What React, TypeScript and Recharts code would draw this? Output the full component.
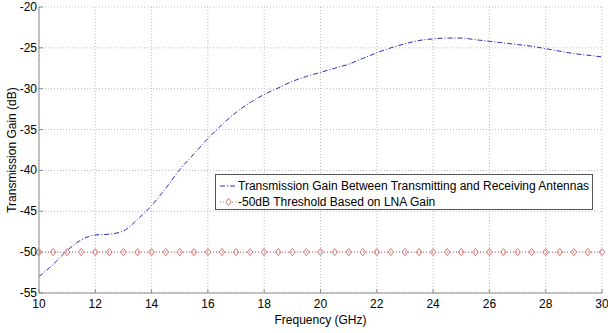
import { LineChart, Line, XAxis, YAxis, CartesianGrid, Legend } from 'recharts';

// frequency samples (GHz), every 0.5 GHz
const FREQS = [
  10, 10.5, 11, 11.5, 12, 12.5, 13, 13.5, 14, 14.5, 15, 15.5, 16, 16.5, 17, 17.5, 18, 18.5, 19, 19.5,
  20, 20.5, 21, 21.5, 22, 22.5, 23, 23.5, 24, 24.5, 25, 25.5, 26, 26.5, 27, 27.5, 28, 28.5, 29, 29.5, 30,
];

// transmission gain between antennas (dB)
const GAIN = [
  -53.0, -51.5, -49.8, -48.5, -47.9, -47.8, -47.4, -46.0, -44.3, -42.2, -39.9, -38.0, -36.1, -34.4,
  -32.9, -31.7, -30.7, -29.9, -29.1, -28.5, -28.0, -27.5, -27.0, -26.3, -25.6, -25.0, -24.5, -24.1,
  -23.9, -23.8, -23.8, -24.0, -24.2, -24.4, -24.6, -24.8, -25.1, -25.4, -25.7, -25.9, -26.1,
];

// LNA threshold (dB)
const THRESHOLD = FREQS.map(() => -50);

const X_TICKS = [10, 12, 14, 16, 18, 20, 22, 24, 26, 28, 30];
const Y_TICKS = [-55, -50, -45, -40, -35, -30, -25, -20];

const GAIN_NAME = 'Transmission Gain Between Transmitting and Receiving Antennas';
const THRESH_NAME = '-50dB Threshold Based on LNA Gain';

const FONT = '"Liberation Sans", Arial, Helvetica, sans-serif';
const BLUE = '#2c2cb8';
const RED = '#d46a6a';
const AXIS = '#8c8c8c';

const data = FREQS.map((f, i) => ({ f, gain: GAIN[i], threshold: THRESHOLD[i] }));

function diamondPath(cx: number, cy: number) {
  const w = 2.8;
  const h = 3.6;
  return `M${cx},${cy - h} L${cx + w},${cy} L${cx},${cy + h} L${cx - w},${cy} Z`;
}

const XTick = (props: any) => {
  const { x, y, payload } = props;
  return (
    <g>
      <line x1={x} y1={y} x2={x} y2={y - 4} stroke={AXIS} />
      <text x={x} y={y + 15} textAnchor="middle" fontSize={12} fontFamily={FONT} fill="#000">
        {payload.value}
      </text>
    </g>
  );
};

const YTick = (props: any) => {
  const { x, y, payload } = props;
  return (
    <g>
      <line x1={x} y1={y} x2={x + 4} y2={y} stroke={AXIS} />
      <text x={x - 2} y={y + 4} textAnchor="end" fontSize={12} fontFamily={FONT} fill="#000">
        {payload.value}
      </text>
    </g>
  );
};

const Diamond = (props: any) => {
  const { cx, cy, index } = props;
  if (cx == null || cy == null) return <g key={index} />;
  return <path key={index} d={diamondPath(cx, cy)} fill="none" stroke={RED} strokeWidth={0.9} />;
};

const LegendBox = () => (
  <div
    style={{
      width: 376,
      height: 34,
      border: '1px solid #555',
      background: '#fff',
      fontFamily: FONT,
      fontSize: 12,
      color: '#000',
      position: 'relative',
    }}
  >
    <svg width={24} height={34} style={{ position: 'absolute', left: 0, top: 0 }}>
      <line x1={4} y1={11} x2={21} y2={11} stroke={BLUE} strokeDasharray="5 2 1 2" />
      <line x1={4} y1={27} x2={21} y2={27} stroke={RED} strokeDasharray="1 2" />
      <path d={diamondPath(12.5, 27)} fill="#fff" stroke={RED} strokeWidth={0.9} />
    </svg>
    <div style={{ position: 'absolute', left: 22, top: 4, whiteSpace: 'nowrap', lineHeight: '14px' }}>{GAIN_NAME}</div>
    <div style={{ position: 'absolute', left: 22, top: 20, whiteSpace: 'nowrap', lineHeight: '14px' }}>{THRESH_NAME}</div>
  </div>
);

export default function App() {
  return (
    <div style={{ position: 'absolute', left: 0, top: 0, background: '#fff' }}>
      <LineChart width={608} height={333} data={data} margin={{ top: 7, right: 6, bottom: 0, left: 0 }}>
        <CartesianGrid stroke="#bdbdbd" strokeDasharray="1 2" />
        <XAxis
          dataKey="f"
          type="number"
          domain={[10, 30]}
          ticks={X_TICKS}
          interval={0}
          height={40}
          stroke={AXIS}
          tickSize={0}
          tickMargin={0}
          tick={<XTick />}
          label={{
            value: 'Frequency (GHz)',
            position: 'insideBottom',
            offset: 9,
            fontSize: 12,
            fontFamily: FONT,
            fill: '#000',
          }}
        />
        <YAxis
          type="number"
          domain={[-55, -20]}
          ticks={Y_TICKS}
          interval={0}
          width={39}
          stroke={AXIS}
          tickSize={0}
          tickMargin={0}
          tick={<YTick />}
          label={{
            value: 'Transmission Gain (dB)',
            angle: -90,
            position: 'insideLeft',
            offset: 0,
            dx: 12,
            fontSize: 12,
            fontFamily: FONT,
            fill: '#000',
            style: { textAnchor: 'middle' },
          }}
        />
        <Legend
          layout="vertical"
          align="center"
          verticalAlign="middle"
          content={() => <LegendBox />}
          wrapperStyle={{ left: 215, top: 174, width: 378, height: 36 }}
        />
        <Line
          dataKey="gain"
          name={GAIN_NAME}
          type="monotone"
          stroke={BLUE}
          strokeWidth={1}
          strokeDasharray="5 2 1 2"
          dot={false}
          isAnimationActive={false}
        />
        <Line
          dataKey="threshold"
          name={THRESH_NAME}
          type="linear"
          stroke={RED}
          strokeWidth={1}
          strokeDasharray="1 2"
          dot={<Diamond />}
          isAnimationActive={false}
        />
      </LineChart>
    </div>
  );
}
